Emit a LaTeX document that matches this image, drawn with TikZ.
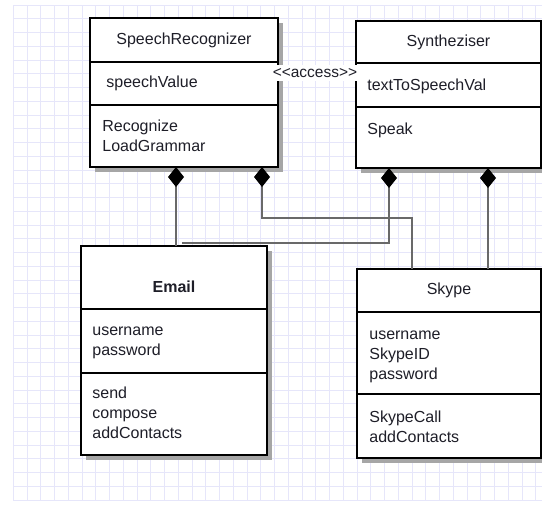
\documentclass[tikz,border=0pt]{standalone}
\usepackage{fontspec}
\setmainfont{Liberation Sans}
\usetikzlibrary{arrows.meta, shadows}
\definecolor{gridcol}{RGB}{230,230,250}
\definecolor{linkcol}{RGB}{105,105,105}
\definecolor{txtcol}{RGB}{30,30,40}
\tikzset{every picture/.style={line width=0.75pt}}
\tikzset{
  gridline/.style={draw=gridcol, line width=0.8pt},
  classbox/.style={draw=black, line width=2.2pt, fill=white, inner sep=0pt, outer sep=0pt,
    anchor=north west,
    drop shadow={shadow xshift=5pt, shadow yshift=-5pt, fill=black!35, opacity=1}},
  divider/.style={draw=black, line width=2pt},
  classname/.style={font=\fontsize{16}{20}\selectfont, text=txtcol, inner sep=0pt},
  member/.style={font=\fontsize{16}{20}\selectfont, text=txtcol, inner sep=0pt, anchor=west},
  members/.style={font=\fontsize{16}{20}\selectfont, text=txtcol, inner sep=0pt, align=left,
    anchor=north west},
  comp/.style={draw=linkcol, line width=1.8pt, {Diamond[length=20pt, width=16pt, color=black]}-},
  stereo/.style={fill=white, inner xsep=2.5pt, inner ysep=3pt,
    font=\fontsize{15.5}{18}\selectfont, text=txtcol}
}

\begin{document}
\begin{tikzpicture}[x=1pt, y=-1pt]
\fill[white] (0,0) rectangle (542,506);
\useasboundingbox (0,0) rectangle (542,506);

% grid
\foreach \i in {0,...,38}
  \draw[gridline] (13.3+13.75*\i, 5) -- (13.3+13.75*\i, 500);
\foreach \j in {0,...,36}
  \draw[gridline] (13.3, 5+13.75*\j) -- (542, 5+13.75*\j);

% SpeechRecognizer
\node[classbox, minimum width=188pt, minimum height=149pt] (sr) at (90,18) {};
\draw[divider] ([yshift=-44pt]sr.north west) -- ([yshift=-44pt]sr.north east);
\draw[divider] ([yshift=-87pt]sr.north west) -- ([yshift=-87pt]sr.north east);
\node[classname] (srname) at ([yshift=-22pt]sr.north) {SpeechRecognizer};
\node[member] (srattr) at ([xshift=16pt, yshift=-65.5pt]sr.north west) {speechValue};
\node[members] (srops) at ([xshift=12pt, yshift=-99pt]sr.north west) {\strut Recognize\\LoadGrammar};

% Syntheziser
\node[classbox, minimum width=185pt, minimum height=147pt] (syn) at (356,21) {};
\draw[divider] ([yshift=-42pt]syn.north west) -- ([yshift=-42pt]syn.north east);
\draw[divider] ([yshift=-86pt]syn.north west) -- ([yshift=-86pt]syn.north east);
\node[classname] (synname) at ([yshift=-21pt]syn.north) {Syntheziser};
\node[member] (synattr) at ([xshift=11pt, yshift=-65pt]syn.north west) {textToSpeechVal};
\node[members] (synops) at ([xshift=11pt, yshift=-99pt]syn.north west) {\strut Speak};

% Email
\node[classbox, minimum width=186pt, minimum height=209pt] (email) at (81,246) {};
\draw[divider] ([yshift=-63pt]email.north west) -- ([yshift=-63pt]email.north east);
\draw[divider] ([yshift=-127pt]email.north west) -- ([yshift=-127pt]email.north east);
\node[classname, font=\fontsize{16}{20}\selectfont\bfseries] (emailname) at ([yshift=-41pt]email.north) {Email};
\node[members] (emailattr) at ([xshift=11pt, yshift=-75pt]email.north west) {\strut username\\password};
\node[members] (emailops) at ([xshift=11pt, yshift=-138pt]email.north west) {\strut send\\compose\\addContacts};

% Skype
\node[classbox, minimum width=184pt, minimum height=189pt] (skype) at (357,269) {};
\draw[divider] ([yshift=-43pt]skype.north west) -- ([yshift=-43pt]skype.north east);
\draw[divider] ([yshift=-125pt]skype.north west) -- ([yshift=-125pt]skype.north east);
\node[classname] (skypename) at ([yshift=-21pt]skype.north) {Skype};
\node[members] (skypeattr) at ([xshift=12pt, yshift=-56pt]skype.north west) {\strut username\\SkypeID\\password};
\node[members] (skypeops) at ([xshift=12pt, yshift=-139pt]skype.north west) {\strut SkypeCall\\addContacts};

% composition links
\draw[comp] ([xshift=-8pt]sr.south) -- ([xshift=-8pt]sr.south |- email.north);
\draw[comp] ([xshift=-16pt]sr.south east) -- ++(0,51) -| ([xshift=-37pt]skype.north);
\draw[comp] ([xshift=33pt]syn.south west) |- ([xshift=8pt, yshift=3pt]email.north);
\draw[comp] ([xshift=-53pt]syn.south east) -- ([xshift=-53pt]syn.south east |- skype.north);

% stereotype
\node[stereo] (access) at (315,73) {<\kern0pt<access>\kern0pt>};
\end{tikzpicture}
\end{document}
